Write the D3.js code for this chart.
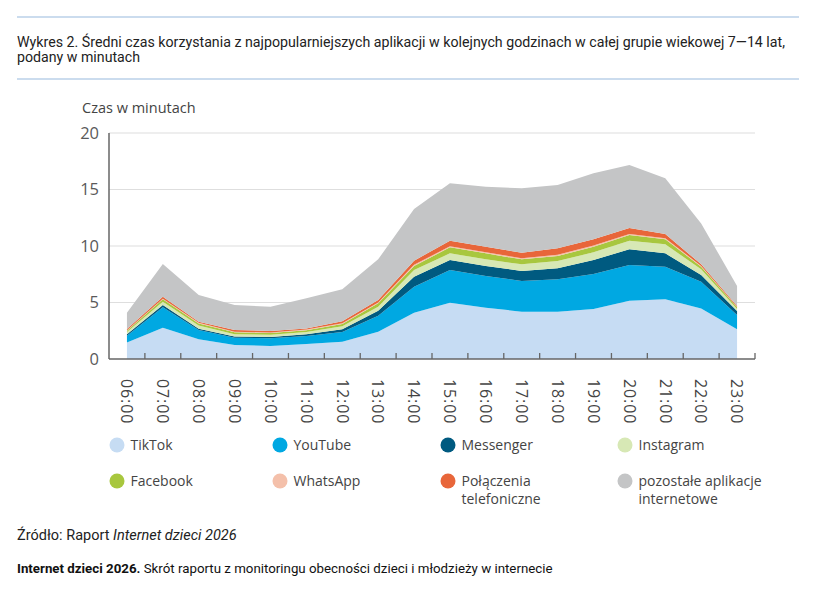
<!DOCTYPE html>
<html><head><meta charset="utf-8">
<script src="https://cdn.jsdelivr.net/npm/d3@7/dist/d3.min.js"></script>
<style>body{margin:0;background:#fff}svg{display:block}</style>
</head><body>
<svg id="c" width="835" height="615"></svg>
<script>
const hours = ["06:00","07:00","08:00","09:00","10:00","11:00","12:00","13:00","14:00","15:00","16:00","17:00","18:00","19:00","20:00","21:00","22:00","23:00"];
const seriesNames = ["TikTok","YouTube","Messenger","Instagram","Facebook","WhatsApp","Połączenia telefoniczne","pozostałe aplikacje internetowe"];
const tiktok    = [1.45,2.77,1.74,1.24,1.15,1.33,1.53,2.42,4.10,4.98,4.54,4.19,4.19,4.42,5.16,5.28,4.48,2.63];
const youtube   = [0.61,1.80,0.83,0.65,0.68,0.71,0.87,1.41,2.30,2.90,2.81,2.71,2.86,3.10,3.16,2.89,2.36,1.26];
const messenger = [0.14,0.21,0.11,0.11,0.12,0.16,0.24,0.45,0.88,0.88,0.88,0.89,0.97,1.24,1.39,1.18,0.59,0.36];
const instagram = [0.18,0.29,0.29,0.20,0.20,0.20,0.26,0.35,0.60,0.59,0.59,0.59,0.65,0.68,0.76,0.80,0.51,0.17];
const facebook  = [0.12,0.21,0.18,0.16,0.15,0.15,0.20,0.30,0.35,0.53,0.53,0.44,0.45,0.50,0.50,0.44,0.23,0.15];
const whatsapp  = [0.05,0.06,0.05,0.06,0.05,0.05,0.06,0.08,0.10,0.10,0.10,0.10,0.10,0.10,0.10,0.10,0.06,0.04];
const telefon   = [0.10,0.16,0.10,0.15,0.13,0.11,0.17,0.21,0.37,0.49,0.49,0.49,0.57,0.55,0.52,0.37,0.15,0.08];
const pozostale = [1.45,2.90,2.36,2.21,2.15,2.66,2.85,3.60,4.57,5.08,5.31,5.69,5.61,5.84,5.58,4.93,3.62,1.77];
const yTicks = [0,5,10,15,20];
const colors = ["#c6dcf3","#00a8e2","#005a80","#d7e8b5","#a8c73e","#f4c0aa","#e8663a","#c4c5c6"];

const seriesValues = [tiktok,youtube,messenger,instagram,facebook,whatsapp,telefon,pozostale];
const table = hours.map((h,i)=>{const o={hour:h}; seriesNames.forEach((k,j)=>o[k]=seriesValues[j][i]); return o;});

const svg = d3.select("#c");
const L=109, R=755, T=133, B=359;
const x = d3.scaleBand().domain(hours).range([L,R]).padding(0);
const bw = x.bandwidth();
const cx = h => x(h)+bw/2;
const y = d3.scaleLinear().domain([0,20]).range([B,T]);

// header rules & title
svg.append("line").attr("x1",17).attr("x2",799).attr("y1",17).attr("y2",17).attr("stroke","#cbdcee").attr("stroke-width",2);
svg.append("line").attr("x1",17).attr("x2",799).attr("y1",79).attr("y2",79).attr("stroke","#cbdcee").attr("stroke-width",2);
const tf = "Roboto, 'Liberation Sans', sans-serif";
svg.append("text").attr("x",17).attr("y",47).attr("font-family",tf).attr("font-size",14).attr("fill","#222")
  .attr("textLength",768).attr("lengthAdjust","spacingAndGlyphs")
  .text("Wykres 2. Średni czas korzystania z najpopularniejszych aplikacji w kolejnych godzinach w całej grupie wiekowej 7—14 lat,");
svg.append("text").attr("x",17).attr("y",62).attr("font-family",tf).attr("font-size",14).attr("fill","#222")
  .attr("textLength",123).attr("lengthAdjust","spacingAndGlyphs").text("podany w minutach");

const af = "'Open Sans', Lato, sans-serif";
svg.append("text").attr("x",82).attr("y",113).attr("font-family",af).attr("font-size",14.5).attr("fill","#444").text("Czas w minutach");

// gridlines
svg.append("g").selectAll("line").data(yTicks.filter(d=>d>0)).join("line")
  .attr("x1",L).attr("x2",R).attr("y1",d=>y(d)).attr("y2",d=>y(d)).attr("stroke","#dedede").attr("stroke-width",1.2);
svg.append("g").selectAll("text").data(yTicks).join("text")
  .attr("x",99).attr("y",d=>y(d)).attr("dy","0.36em").attr("text-anchor","end")
  .attr("font-family",af).attr("font-size",16.5).attr("fill","#5a5a5a").text(d=>d);

// stacked areas
const stack = d3.stack().keys(seriesNames);
const layers = stack(table);
const area = d3.area().x(d=>cx(d.data.hour)).y0(d=>y(d[0])).y1(d=>y(d[1]));
svg.append("g").selectAll("path").data(layers).join("path")
  .attr("d",area).attr("fill",(d,i)=>colors[i]);

// axes
svg.append("line").attr("x1",L).attr("x2",L).attr("y1",T).attr("y2",B).attr("stroke","#666").attr("stroke-width",1.5);
svg.append("line").attr("x1",L).attr("x2",R).attr("y1",B).attr("y2",B).attr("stroke","#666").attr("stroke-width",1.5);
svg.append("g").selectAll("line").data(hours).join("line")
  .attr("x1",d=>x(d)+bw).attr("x2",d=>x(d)+bw).attr("y1",B-6).attr("y2",B).attr("stroke","#666").attr("stroke-width",1.3);
svg.append("g").selectAll("text").data(hours).join("text")
  .attr("transform",d=>`translate(${cx(d)},379) rotate(90)`).attr("dy","0.36em")
  .attr("font-family",af).attr("font-size",16).attr("letter-spacing",0.9).attr("fill","#444").text(d=>d);

// legend
const legendRows = [
  [{i:0,t:["TikTok"]},{i:1,t:["YouTube"]},{i:2,t:["Messenger"]},{i:3,t:["Instagram"]}],
  [{i:4,t:["Facebook"]},{i:5,t:["WhatsApp"]},{i:6,t:["Połączenia","telefoniczne"]},{i:7,t:["pozostałe aplikacje","internetowe"]}]
];
const lx = [117,280,448,625], ly=[445,481];
legendRows.forEach((row,r)=>row.forEach((it,c)=>{
  const g = svg.append("g");
  g.append("circle").attr("cx",lx[c]).attr("cy",ly[r]).attr("r",7.5).attr("fill",colors[it.i]);
  it.t.forEach((s,k)=>g.append("text").attr("x",lx[c]+13.5).attr("y",ly[r]+5+k*18)
    .attr("font-family",af).attr("font-size",14).attr("fill","#444").text(s));
}));

// footer
const f1 = svg.append("text").attr("x",17).attr("y",540).attr("font-family",tf).attr("font-size",14.5).attr("fill","#222");
f1.append("tspan").text("Źródło: Raport ");
f1.append("tspan").attr("font-style","italic").text("Internet dzieci 2026");
const f2 = svg.append("text").attr("x",17).attr("y",573).attr("font-family",tf).attr("font-size",13.3).attr("fill","#111");
f2.append("tspan").attr("font-weight","bold").text("Internet dzieci 2026.");
f2.append("tspan").text(" Skrót raportu z monitoringu obecności dzieci i młodzieży w internecie");
</script>
</body></html>
